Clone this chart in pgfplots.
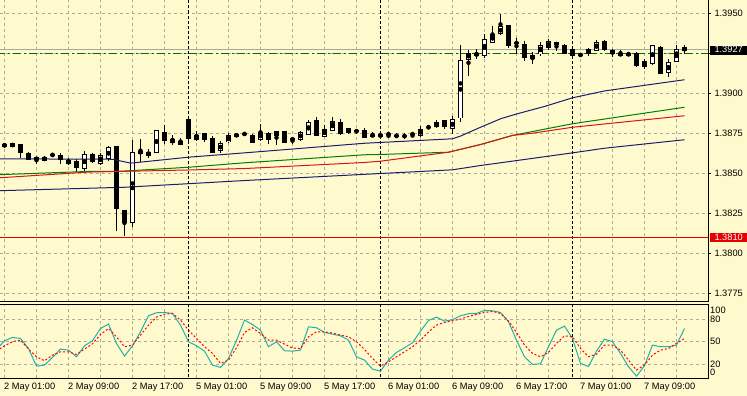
\documentclass[border=0pt]{standalone}
\usepackage{pgfplots}
\usepackage{pgfplotstable}
\pgfplotsset{compat=1.18}
\usepackage{fontspec}
\setmainfont{Liberation Sans}
\definecolor{bg}{RGB}{255,250,205}
\definecolor{gridc}{RGB}{172,170,155}
\definecolor{mablue}{RGB}{28,28,110}
\definecolor{magreen}{RGB}{0,128,0}
\definecolor{mared}{RGB}{220,20,20}
\definecolor{stochc}{RGB}{32,178,170}
\definecolor{hlgreen}{RGB}{0,110,0}
\definecolor{lvlred}{RGB}{230,0,0}
\definecolor{bidgray}{RGB}{168,168,160}
\newcommand{\lf}{\fontsize{9.3}{11}\selectfont}
\newcommand{\prl}[1]{\makebox[38bp][l]{\hspace*{5bp}#1}}
\newcommand{\stl}[1]{\makebox[30bp][l]{\hspace*{0.7bp}#1}}
\newcommand{\mtbox}[2]{{\setlength{\fboxsep}{0pt}\colorbox{#1}{\makebox[38bp][l]{\hspace*{5bp}\textcolor{white}{\rule[-2.2bp]{0pt}{9.4bp}#2}}}}}

\pgfplotstableread{
i O H L C
0 1.38669 1.38694 1.38663 1.38684
1 1.38671 1.38691 1.38666 1.38686
2 1.38681 1.38688 1.38600 1.38629
3 1.38623 1.38633 1.38586 1.38588
4 1.38600 1.38606 1.38561 1.38586
5 1.38581 1.38608 1.38577 1.38602
6 1.38621 1.38622 1.38611 1.38613
7 1.38613 1.38631 1.38561 1.38588
8 1.38581 1.38598 1.38556 1.38561
9 1.38575 1.38589 1.38513 1.38539
10 1.38529 1.38639 1.38514 1.38617
11 1.38617 1.38631 1.38567 1.38577
12 1.38561 1.38631 1.38556 1.38613
13 1.38596 1.38669 1.38581 1.38661
14 1.38669 1.38675 1.38141 1.38278
15 1.38269 1.38275 1.38109 1.38196
16 1.38192 1.38711 1.38166 1.38629
17 1.38638 1.38717 1.38569 1.38627
18 1.38613 1.38654 1.38598 1.38633
19 1.38633 1.38773 1.38627 1.38767
20 1.38758 1.38804 1.38689 1.38706
21 1.38694 1.38742 1.38681 1.38713
22 1.38702 1.38723 1.38677 1.38683
23 1.38838 1.38858 1.38706 1.38717
24 1.38711 1.38769 1.38702 1.38738
25 1.38748 1.38752 1.38696 1.38713
26 1.38719 1.38736 1.38627 1.38633
27 1.38646 1.38702 1.38627 1.38686
28 1.38698 1.38756 1.38689 1.38736
29 1.38748 1.38752 1.38727 1.38733
30 1.38748 1.38763 1.38733 1.38748
31 1.38738 1.38748 1.38692 1.38696
32 1.38711 1.38811 1.38706 1.38758
33 1.38750 1.38763 1.38686 1.38714
34 1.38736 1.38769 1.38681 1.38764
35 1.38763 1.38769 1.38692 1.38696
36 1.38719 1.38727 1.38686 1.38711
37 1.38711 1.38769 1.38706 1.38758
38 1.38748 1.38836 1.38742 1.38821
39 1.38831 1.38852 1.38736 1.38739
40 1.38731 1.38806 1.38727 1.38779
41 1.38769 1.38852 1.38764 1.38827
42 1.38819 1.38842 1.38744 1.38748
43 1.38758 1.38783 1.38748 1.38779
44 1.38767 1.38779 1.38748 1.38763
45 1.38769 1.38783 1.38727 1.38727
46 1.38738 1.38758 1.38727 1.38738
47 1.38748 1.38758 1.38717 1.38733
48 1.38748 1.38750 1.38723 1.38748
49 1.38738 1.38748 1.38723 1.38738
50 1.38733 1.38752 1.38717 1.38733
51 1.38748 1.38750 1.38727 1.38748
52 1.38738 1.38800 1.38731 1.38779
53 1.38789 1.38792 1.38788 1.38789
54 1.38794 1.38838 1.38783 1.38817
55 1.38831 1.38838 1.38779 1.38794
56 1.38783 1.38863 1.38748 1.38838
57 1.38848 1.39304 1.38821 1.39206
58 1.39217 1.39273 1.39113 1.39252
59 1.39238 1.39279 1.39217 1.39252
60 1.39238 1.39373 1.39223 1.39336
61 1.39321 1.39425 1.39314 1.39369
62 1.39373 1.39498 1.39367 1.39419
63 1.39425 1.39429 1.39286 1.39300
64 1.39317 1.39346 1.39248 1.39317
65 1.39306 1.39327 1.39202 1.39223
66 1.39217 1.39258 1.39186 1.39238
67 1.39248 1.39325 1.39238 1.39300
68 1.39286 1.39342 1.39273 1.39325
69 1.39317 1.39321 1.39269 1.39304
70 1.39300 1.39311 1.39248 1.39252
71 1.39273 1.39279 1.39231 1.39238
72 1.39248 1.39254 1.39231 1.39236
73 1.39248 1.39283 1.39238 1.39273
74 1.39269 1.39336 1.39264 1.39321
75 1.39327 1.39336 1.39269 1.39273
76 1.39269 1.39279 1.39231 1.39248
77 1.39252 1.39273 1.39233 1.39238
78 1.39252 1.39264 1.39233 1.39238
79 1.39252 1.39258 1.39164 1.39175
80 1.39169 1.39217 1.39154 1.39200
81 1.39186 1.39306 1.39181 1.39300
82 1.39289 1.39300 1.39127 1.39127
83 1.39133 1.39217 1.39102 1.39196
84 1.39200 1.39306 1.39196 1.39273
85 1.39286 1.39306 1.39248 1.39270
}\candles

\pgfplotstableread{
i p
-1 1.38592
13.5 1.38589
15.75 1.38565
17 1.38571
23 1.38602
30 1.38629
45 1.38689
56 1.38717
57 1.38734
59.5 1.38789
62 1.38842
64 1.38872
67.5 1.38919
71 1.38973
75 1.39016
85 1.39086
}\maA

\pgfplotstableread{
i p
-1 1.38492
10.5 1.38513
14.5 1.38514
23 1.38539
30 1.38567
45 1.38617
47 1.38619
55.5 1.38633
59.5 1.38681
63.5 1.38738
71 1.38811
85 1.38914
}\maB

\pgfplotstableread{
i p
-1 1.38472
10.5 1.38509
14.5 1.38513
23 1.38522
30 1.38531
45 1.38569
47 1.38577
55.5 1.38633
59.5 1.38681
63.5 1.38738
66 1.38752
71 1.38789
85 1.38861
}\maC

\pgfplotstableread{
i p
-1 1.38392
15 1.38414
30 1.38456
47 1.38500
56 1.38523
59.5 1.38550
62 1.38567
71 1.38629
75 1.38658
85 1.38711
}\maD

\pgfplotstableread{
i k d
-1 39.7 37.6
0 51.3 44.7
1 55.7 50.0
2 54.4 52.2
3 41.1 40.3
4 17.7 30.1
5 19.1 24.8
6 29.2 32.3
7 40.3 36.7
8 38.9 36.7
9 30.1 33.2
10 44.7 40.3
11 51.3 47.3
12 67.6 59.7
13 73.4 67.6
14 47.8 56.6
15 31.0 43.4
16 44.7 45.6
17 63.2 58.8
18 84.4 72.1
19 88.4 82.6
20 88.8 86.6
21 87.5 87.5
22 72.1 78.7
23 50.0 65.4
24 44.7 54.4
25 37.6 43.4
26 19.1 34.5
27 16.0 21.3
28 27.9 25.7
29 51.7 42.0
30 78.7 62.4
31 72.9 68.5
32 65.4 61.0
33 43.4 52.2
34 50.0 52.2
35 38.1 46.9
36 37.6 41.6
37 38.9 41.1
38 69.8 56.6
39 68.5 63.2
40 62.4 63.2
41 60.1 61.5
42 57.9 58.8
43 52.2 56.6
44 30.1 50.0
45 25.7 39.8
46 13.8 27.9
47 11.1 17.7
48 25.7 23.5
49 35.9 30.1
50 42.0 36.7
51 48.7 43.4
52 64.1 52.2
53 78.2 62.8
54 82.6 72.1
55 77.4 75.6
56 79.1 77.8
57 84.4 80.0
58 87.1 83.5
59 87.5 86.2
60 91.5 88.8
61 91.0 90.2
62 88.8 87.5
63 76.5 77.4
64 52.2 62.4
65 30.1 45.6
66 20.0 34.5
67 20.9 30.1
68 43.4 35.9
69 65.4 47.8
70 70.7 57.9
71 54.4 56.6
72 21.3 41.1
73 17.3 30.1
74 37.6 33.6
75 53.5 45.6
76 50.0 45.6
77 34.5 38.9
78 16.9 25.7
79 4.5 12.5
80 18.2 19.1
81 45.6 32.3
82 43.4 38.9
83 43.4 41.1
84 45.6 47.8
85 67.6 54.4
}\stoch

\pgfplotsset{mt/.style={
  scale only axis, width=708bp, xmin=-0.5625, xmax=87.9375,
  xtick={0,4,...,84},
  grid=major, major grid style={gridc, dash pattern=on 3bp off 3bp, line width=0.8bp},
  minor tick length=0pt,
  axis line style={draw=none},
  xtick style={draw=none},
  yticklabel pos=right,
  ytick pos=right,
  tick label style={font=\lf, inner sep=0pt, text=black},
  clip=true,
}}

\begin{document}
\begin{tikzpicture}
\fill[bg] (0bp,0bp) rectangle (747bp,-396bp);
\path[use as bounding box] (0bp,0bp) rectangle (747bp,-396bp);

\begin{axis}[mt, at={(0bp,0bp)}, anchor=north west, height=301.5bp,
  ymin=1.37700, ymax=1.395844,
  major tick length=3bp, tick align=outside,
  ytick style={draw=black, line width=0.8bp},
  yticklabel style={anchor=west, xshift=-1.7bp},
  ytick={1.3775,1.38,1.3825,1.385,1.3875,1.39,1.3925,1.395},
  yticklabels={\prl{1.3775},\prl{1.3800},\prl{1.3825},\prl{1.3850},\prl{1.3875},\prl{1.3900},{},\prl{1.3950}},
  xticklabels={},
  after end axis/.code={
    \draw[black, line width=1bp] (rel axis cs:0,0) -- (rel axis cs:1,0) -- (rel axis cs:1,1);
    \node[anchor=west, inner sep=0pt, xshift=1.3bp, font=\lf] at (axis cs:87.9375,1.381) {\mtbox{lvlred}{1.3810}};
    \node[anchor=west, inner sep=0pt, xshift=1.3bp, font=\lf] at (axis cs:87.9375,1.3927) {\mtbox{black}{1.3927}};
  },
]
% day separators
\addplot [black, line width=0.9bp, dash pattern=on 3bp off 2bp] coordinates {(23,1.37) (23,1.40)};
\addplot [black, line width=0.9bp, dash pattern=on 3bp off 2bp] coordinates {(47,1.37) (47,1.40)};
\addplot [black, line width=0.9bp, dash pattern=on 3bp off 2bp] coordinates {(71,1.37) (71,1.40)};
% horizontal levels
\addplot [bidgray, line width=1bp, solid] coordinates {(-1,1.39272) (89,1.39272)};
\addplot [hlgreen, line width=1bp, dash pattern=on 8bp off 3bp on 2bp off 3bp] coordinates {(-1,1.39250) (89,1.39250)};
% wicks
\addplot [only marks, mark=none, error bars/.cd, y dir=both, y explicit, error mark=none,
  error bar style={draw=black, line width=1bp, solid}]
  table [x=i, y expr={(\thisrow{H}+\thisrow{L})/2}, y error expr={(\thisrow{H}-\thisrow{L})/2}] {\candles};
% bodies (outline / black)
\addplot [only marks, mark=none, error bars/.cd, y dir=both, y explicit, error mark=none,
  error bar style={draw=black, line width=5bp, line cap=butt, solid}]
  table [x=i, y expr={(\thisrow{O}+\thisrow{C})/2}, y error expr={abs(\thisrow{C}-\thisrow{O})/2+0.00003}] {\candles};
% white fill for bullish candles
\addplot [only marks, mark=none, restrict expr to domain={\thisrow{C}-\thisrow{O}}{0.00002:1},
  error bars/.cd, y dir=both, y explicit, error mark=none,
  error bar style={draw=white, line width=3bp, line cap=butt, solid}]
  table [x=i, y expr={(\thisrow{O}+\thisrow{C})/2}, y error expr={max((\thisrow{C}-\thisrow{O})/2-0.00003,0)}] {\candles};
% moving averages
\addplot [mablue, line width=1bp] table [x=i, y=p] {\maA};
\addplot [magreen, line width=1bp] table [x=i, y=p] {\maB};
\addplot [mared, line width=1bp] table [x=i, y=p] {\maC};
\addplot [mablue, line width=1bp] table [x=i, y=p] {\maD};
% support level
\addplot [lvlred, line width=1.1bp, solid] coordinates {(-1,1.381) (89,1.381)};
\end{axis}

\begin{axis}[mt, at={(0bp,-304bp)}, anchor=north west, height=74bp,
  ymin=2, ymax=100,
  major tick length=0pt,
  yticklabel style={anchor=west, xshift=1.3bp},
  ytick={20,50,80}, yticklabels={\stl{20},\stl{50},\stl{80}},
  xticklabels={2 May 01:00,{},2 May 09:00,{},2 May 17:00,{},5 May 01:00,{},5 May 09:00,{},5 May 17:00,{},6 May 01:00,{},6 May 09:00,{},6 May 17:00,{},7 May 01:00,{},7 May 09:00,{}},
  xticklabel style={anchor=north west, yshift=-5.3bp, xshift=-0.5bp},
  after end axis/.code={
    \draw[black, line width=1bp] (rel axis cs:0,1) -- (rel axis cs:1,1) -- (rel axis cs:1,0) -- (rel axis cs:0,0);
    \node[anchor=west, inner sep=0pt, xshift=1.3bp, font=\lf] at (axis cs:87.9375,9.5) {\stl{0}};
    \node[anchor=west, inner sep=0pt, xshift=1.3bp, font=\lf] at (axis cs:87.9375,91) {\stl{100}};
  },
]
\addplot [black, line width=0.9bp, dash pattern=on 3bp off 2bp] coordinates {(23,-10) (23,110)};
\addplot [black, line width=0.9bp, dash pattern=on 3bp off 2bp] coordinates {(47,-10) (47,110)};
\addplot [black, line width=0.9bp, dash pattern=on 3bp off 2bp] coordinates {(71,-10) (71,110)};
\addplot [stochc, line width=1bp] table [x=i, y=k] {\stoch};
\addplot [red, line width=1bp, dash pattern=on 2bp off 2bp] table [x=i, y=d] {\stoch};
\end{axis}
\end{tikzpicture}
\end{document}
